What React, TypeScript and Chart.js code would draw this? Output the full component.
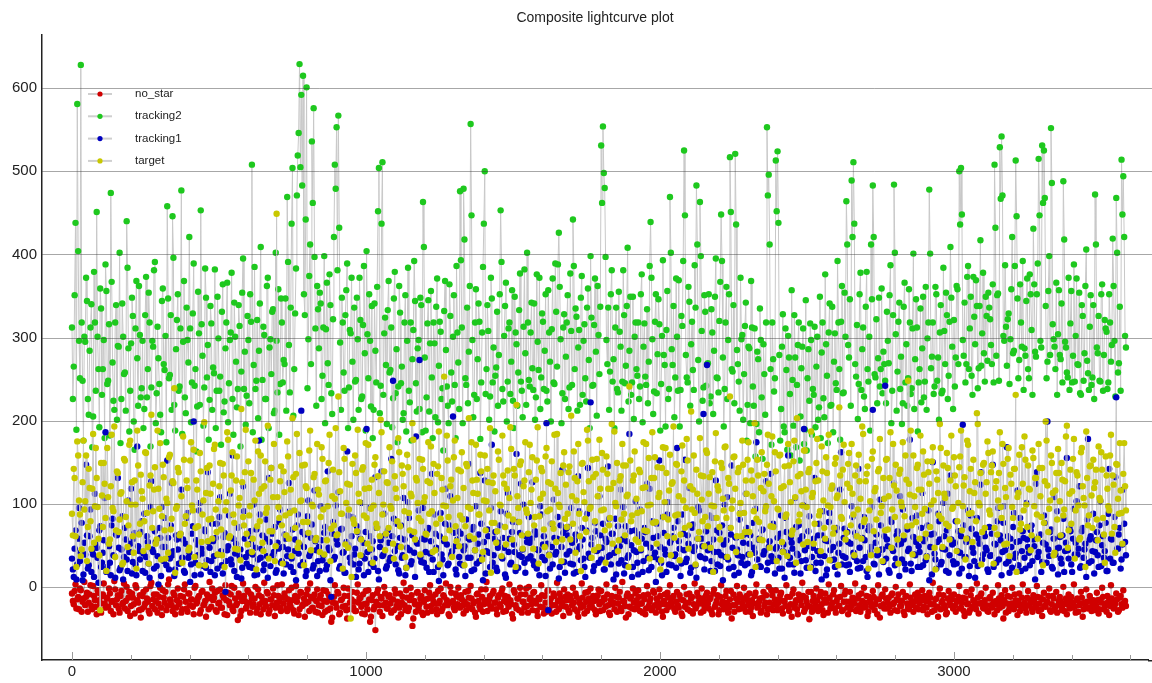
import { useEffect, useRef } from 'react';
import { Chart, registerables, type Plugin } from 'chart.js';

Chart.register(...registerables);

// readings are every 6 frames; the "B" arrays are the readings 3 frames later
const FRAME_STEP = 6;
const FRAME_OFFSET_B = 3;

const seriesNames = ['no_star', 'tracking2', 'tracking1', 'target'];
const seriesColors = ['#d00000', '#1ec81e', '#0000c0', '#c8c800'];
const yTicks = [0, 100, 200, 300, 400, 500, 600];
const xMajorTicks = [0, 1000, 2000, 3000];
const xMinorTicks = [200, 400, 600, 800, 1200, 1400, 1600, 1800, 2200, 2400, 2600, 2800, 3200, 3400, 3600];

const noStar = [
  -8, -21, 3, -15, -27, -4, -18, 6, -12, -30, -9, -23, 1, -16, -33, -7, -20, -11, 4, -25,
  -14, -2, -29, -17, 7, -22, -10, -31, -5, -19, -26, 0, -13, -35, -8, -21, 2, -16, -28, -37,
  -11, -24, -3, -18, -32, 5, -15, -27, -9, -20, -1, -34, -13, -6, -23, 9, -17, -29, -10, -25,
  -2, -19, -31, -12, 3, -26, -8, -22, -15, -33, 1, -18, -11, -28, -5, -21, -36, -14, 6, -24,
  -16, -7, -30, -20, -3, -25, -13, 2, -34, -18, -9, -27, -1, -22, -40, -12, -29, 4, -17, -24,
  -6, -31, -14, -21, 0, -26, -10, -33, -18, 5, -23, -8, -28, -15, -2, -35, -19, -11, -25, 3,
  -20, -13, -29, -4, -24, -16, -32, 1, -12, -27, -7, -21, -36, -9, -18, 4, -26, -14, -30, -3,
  -22, -10, -34, -17, -5, -28, -13, -42, -19, 2, -25, -8, -31, -15, -1, -23, -38, -11, -27, -6,
  -18, -29, 3, -14, -24, -9, -33, -20, -4, -42, -16, -27, -52, -7, -22, -12, -35, 0, -19, -26,
  -10, -31, -15, -3, -23, -37, -8, -19, 5, -28, -13, -25, -1, -47, -17, -30, -6, -21, -11, -34,
  -4, -24, -14, 2, -29, -18, -9, -33, -20, -2, -26, -12, 4, -22, -35, -7, -17, -28, -11, -1,
  -25, -15, -32, -6, -21, -13, 1, -27, -18, -36, -8, -23, -3, -30, -16, 6, -20, -11, -26, -5,
  -19, -33, -10, -24, -2, -17, -29, -12, 3, -21, -38, -7, -26, -14, -1, -31, -18, -9, -23, 0,
  -13, -28, -6, -20, -35, -15, 2, -25, -11, -30, -4, -18, -32, -8, -22, 5, -27, -14, -19, -3,
  -24, -9, -31, -16, -1, -27, -12, -36, -20, 4, -23, -7, -29, -14, -2, -25, -17, -33, -10, -21,
  -5, -28, -15, 3, -22, -34, -11, -19, -1, -30, -13, -25, 6, -18, -37, -8, -24, -12, -2, -27,
  -16, -4, -29, -20, -10, -33, 1, -23, -14, -26, -7, -31, -17, -3, -21, -36, -9, -28, -13, 2,
  -22, -11, -30, -6, -25, -15, -35, 0, -19, -27, -8, -14, -32, 4, -24, -12, -20, -2, -29, -17,
  -7, -26, -13, -33, -3, -21, -10, -28, 2, -18, -24, -5, -31, -15, -38, -9, -22, 1, -27, -12,
  -20, -1, -30, -16, -8, -25, -35, -11, 3, -23, -14, -29, -6, -19, -33, 0, -26, -10, -21, -4,
  -28, -15, -7, -32, -18, 2, -24, -12, -36, -3, -20, -27, -9, -16, 5, -30, -13, -22, -39, -6,
  -17, -25, -2, -29, -11, -21, -34, -8, -15, 3, -26, -19, -4, -31, -13, -23, 1, -28, -9, -18,
  -33, -6, -22, -14, 4, -27, -10, -30, -17, -1, -24, -35, -12, -20, -5, -28, -15, 2, -37, -11,
  -21, -3, -26, -13, -31, -8, -19, 0, -29, -16, -23, -6, -34, -11, -25, 3, -18, -30, -9, -14,
  -27, -12, -4, -24, -17, -33, -7, -21, 5, -28, -14, -36, -2, -19, -10, -26, -31, -5, -22, -15,
  -9, -30, -18, 1, -25, -13, -35, -6, -20, -28, -3, -16, -23, 4, -32, -11, -19, -26, -1, -29,
  -14, -22, -7, -33, -17, 2, -25, -10, -38, -4, -20, -29, -12, -1, -27, -16, -34, -8, -23, 3,
  -19, -31, -5, -15, -26, -10, -21, 1, -29, -13, -35, -7, -24, -18, -2, -30, -11, -27, -6, -22,
  -12, -28, 0, -20, -33, -9, -17, -25, 3, -31, -14, -22, -6, -36, -19, -3, -26, -11, -29, -16,
  -24, -7, -32, -15, -1, -27, -20, -11, -34, 2, -18, -25, -8, -30, -13, -21, -4, -17,
];

const noStarB = [
  -17, -5, -26, -12, -2, -30, -14, -22, -7, -19, 2, -27, -11, -24, -4, -16, -31, -9, -20, -13,
  -24, -8, -18, -33, -3, -15, -26, -11, -21, 4, -17, -29, -6, -23, -13, -32, -1, -19, -10, -27,
  -6, -20, -14, -29, 1, -23, -9, -17, -31, -12, -25, -4, -19, -28, 3, -15, -22, -7, -33, -16,
  -21, -11, -27, -3, -18, -30, -8, -15, -24, -1, -20, -13, -32, -6, -22, -17, -9, -27, -12, -2,
  -13, -28, -5, -19, -25, -10, -33, -16, -7, -22, 1, -29, -14, -20, -8, -35, -17, -11, -26, -4,
  -19, -9, -24, -14, -31, -3, -21, -12, -27, -17, -6, -32, -15, -22, -10, -25, 2, -18, -29, -13,
  -8, -26, -15, -21, -1, -28, -11, -18, -34, -6, -23, -14, -20, -3, -29, -12, -25, -9, -17, -31,
  -14, -23, -4, -30, -18, -9, -26, -37, -12, -20, -6, -33, -16, -24, -11, -28, -2, -19, -15, -25,
  -29, -7, -19, -13, -32, -21, -5, -27, -15, -36, -10, -24, -18, -3, -30, -14, -22, -8, -26, -12,
  -20, -15, -28, -8, -18, -25, -33, -12, -22, -4, -29, -16, -10, -38, -21, -7, -26, -14, -31, -18,
  -15, -31, -7, -23, -12, -20, -27, -5, -17, -29, -10, -22, -16, -33, 0, -19, -25, -8, -21, -13,
  -10, -22, -18, -28, -5, -25, -14, -20, -31, -9, -17, -27, -12, -21, -3, -29, -15, -24, -8, -19,
  -27, -13, -21, -6, -30, -11, -19, -24, -16, -33, -4, -22, -14, -28, -9, -18, -25, -2, -31, -15,
  -21, -7, -17, -29, -13, -24, -10, -32, -19, -5, -26, -14, -22, -11, -30, -17, -8, -23, -35, -12,
  -16, -28, -11, -22, -19, -8, -30, -15, -25, -13, -32, -18, -6, -24, -20, -11, -28, -16, -3, -29,
  -18, -13, -24, -9, -31, -16, -21, -27, -12, -20, -6, -29, -17, -23, -11, -33, -14, -26, -19, -8,
  -23, -12, -20, -31, -15, -26, -9, -18, -28, -5, -22, -14, -25, -11, -30, -17, -21, -7, -24, -19,
  -13, -27, -18, -22, -10, -32, -16, -24, -9, -19, -29, -12, -21, -26, -7, -18, -31, -14, -23, -10,
  -20, -15, -29, -8, -24, -17, -33, -12, -21, -27, -11, -19, -25, -5, -22, -30, -14, -18, -9, -26,
  -14, -24, -11, -21, -30, -16, -20, -7, -25, -18, -31, -13, -23, -10, -27, -19, -4, -28, -15, -22,
  -19, -10, -26, -17, -23, -12, -29, -21, -8, -25, -16, -33, -14, -22, -11, -27, -18, -6, -24, -30,
  -11, -21, -16, -24, -6, -28, -15, -19, -31, -13, -22, -9, -26, -17, -23, -12, -29, -18, -5, -25,
  -18, -27, -13, -20, -29, -14, -22, -8, -25, -19, -11, -30, -16, -24, -12, -21, -33, -15, -23, -9,
  -26, -14, -19, -24, -10, -21, -28, -15, -9, -23, -17, -30, -12, -20, -27, -13, -22, -18, -25, -7,
  -20, -16, -28, -11, -25, -18, -13, -30, -21, -15, -24, -9, -27, -17, -22, -33, -14, -19, -11, -26,
  -23, -17, -12, -26, -19, -29, -14, -21, -31, -10, -24, -18, -27, -13, -20, -8, -25, -16, -22, -30,
  -12, -25, -18, -21, -28, -14, -19, -23, -16, -31, -11, -26, -20, -24, -9, -22, -17, -29, -13, -21,
  -26, -13, -22, -18, -30, -16, -25, -12, -20, -27, -15, -23, -19, -11, -28, -21, -14, -24, -31, -17,
  -17, -23, -29, -14, -21, -26, -12, -19, -24, -16, -30, -20, -13, -27, -22, -18, -25, -15, -21, -28,
  -22, -16, -27, -19, -12, -24, -30, -18, -23, -14, -26, -20, -15, -28, -11, -25, -19, -23,
];

const tracking2 = [
  312, 265, 438, 581, 296, 628, 248, 301, 372, 226, 284, 340, 205, 318, 451, 262, 359, 231, 297, 388,
  244, 316, 474, 270, 213, 339, 290, 402, 226, 301, 258, 440, 287, 236, 348, 199, 311, 275, 362, 228,
  296, 214, 373, 262, 318, 240, 289, 391, 233, 275, 207, 344, 268, 302, 458, 251, 327, 446, 219, 286,
  352, 241, 477, 295, 228, 336, 270, 311, 246, 389, 262, 217, 305, 453, 278, 240, 348, 291, 225, 317,
  264, 382, 236, 299, 253, 331, 210, 287, 366, 245, 306, 226, 342, 271, 238, 314, 259, 395, 283, 230,
  297, 352, 508, 267, 238, 321, 284, 409, 249, 303, 226, 372, 288, 256, 334, 212, 296, 358, 244, 318,
  273, 347, 469, 291, 336, 504, 262, 383, 519, 629, 592, 615, 327, 601, 298, 412, 536, 576, 311, 362,
  287, 341, 254, 398, 310, 269, 376, 233, 322, 508, 553, 567, 294, 348, 258, 327, 389, 240, 305, 271,
  336, 249, 298, 372, 226, 315, 281, 404, 251, 296, 338, 213, 284, 361, 504, 242, 511, 305, 267, 333,
  258, 312, 227, 379, 286, 241, 330, 265, 209, 351, 296, 236, 318, 274, 392, 245, 287, 214, 339, 463,
  276, 228, 345, 293, 252, 318, 204, 371, 266, 307, 239, 332, 285, 218, 364, 258, 301, 243, 386, 270,
  476, 312, 479, 251, 336, 283, 557, 297, 231, 358, 274, 319, 246, 385, 500, 262, 308, 229, 347, 288,
  254, 331, 279, 453, 238, 302, 366, 247, 318, 271, 224, 349, 292, 258, 377, 236, 313, 281, 402, 249,
  306, 263, 341, 228, 295, 372, 252, 319, 284, 236, 357, 271, 310, 246, 389, 265, 426, 298, 233, 328,
  277, 351, 240, 308, 442, 262, 325, 288, 219, 374, 296, 251, 336, 273, 398, 242, 315, 283, 362, 256,
  531, 554, 480, 297, 336, 259, 381, 274, 312, 238, 355, 289, 247, 327, 266, 408, 284, 231, 349, 301,
  262, 318, 241, 376, 289, 253, 334, 271, 439, 298, 235, 352, 280, 316, 244, 393, 267, 309, 226, 469,
  286, 338, 252, 301, 369, 237, 314, 525, 279, 246, 343, 292, 261, 387, 483, 273, 463, 308, 240, 331,
  268, 352, 229, 306, 284, 395, 251, 320, 448, 276, 238, 361, 297, 517, 262, 339, 521, 285, 247, 372,
  303, 256, 342, 219, 287, 368, 241, 311, 196, 274, 335, 228, 292, 207, 553, 496, 262, 318, 235, 513,
  524, 279, 214, 328, 186, 261, 302, 232, 357, 194, 276, 243, 318, 205, 289, 172, 345, 251, 224, 297,
  238, 313, 265, 201, 349, 282, 227, 376, 254, 306, 218, 337, 271, 245, 392, 262, 319, 233, 354, 464,
  291, 346, 489, 511, 268, 315, 244, 378, 286, 229, 337, 262, 301, 412, 483, 256, 322, 275, 241, 359,
  283, 248, 331, 269, 387, 236, 484, 304, 259, 342, 277, 221, 366, 292, 251, 318, 239, 401, 274, 312,
  246, 335, 287, 228, 361, 299, 478, 263, 318, 241, 352, 276, 306, 233, 384, 268, 327, 254, 409, 289,
  321, 276, 358, 500, 504, 297, 342, 268, 386, 311, 254, 373, 292, 338, 263, 417, 305, 281, 349, 272,
  336, 291, 364, 508, 278, 353, 529, 542, 302, 387, 266, 329, 298, 421, 284, 513, 347, 273, 318, 392,
  287, 344, 262, 376, 309, 431, 283, 352, 515, 296, 531, 525, 338, 271, 398, 552, 316, 289, 366, 304,
  279, 341, 488, 295, 258, 372, 317, 246, 388, 302, 268, 354, 231, 326, 281, 406, 257, 313, 243, 339,
  472, 288, 326, 247, 364, 279, 311, 238, 352, 271, 419, 296, 468, 258, 337, 514, 494, 302,
];

const tracking2B = [
  226, 351, 189, 404, 251, 318, 176, 295, 344, 207, 312, 168, 379, 236, 301, 192, 335, 262, 179, 356,
  248, 182, 367, 224, 318, 201, 289, 173, 341, 256, 212, 384, 187, 293, 326, 165, 368, 218, 303, 239,
  191, 327, 228, 354, 169, 296, 381, 197, 313, 244, 186, 359, 261, 174, 347, 255, 213, 396, 188, 321,
  236, 311, 184, 368, 209, 297, 421, 198, 329, 242, 163, 355, 219, 316, 194, 383, 252, 177, 338, 213,
  257, 191, 349, 236, 171, 364, 223, 318, 198, 297, 378, 183, 301, 216, 339, 169, 354, 238, 195, 326,
  221, 319, 186, 385, 248, 203, 341, 177, 313, 226, 362, 191, 298, 331, 209, 402, 234, 183, 347, 246,
  268, 212, 391, 234, 437, 206, 329, 471, 546, 505, 483, 352, 442, 239, 374, 268, 462, 397, 218, 334,
  354, 226, 312, 197, 366, 243, 339, 208, 421, 479, 381, 432, 213, 318, 236, 357, 191, 309, 372, 201,
  247, 348, 213, 321, 229, 386, 188, 304, 352, 217, 179, 341, 246, 452, 209, 437, 231, 324, 196, 368,
  261, 192, 347, 233, 174, 362, 245, 201, 318, 187, 384, 222, 176, 309, 344, 211, 297, 348, 186, 409,
  188, 317, 211, 356, 179, 293, 337, 198, 319, 226, 164, 368, 241, 197, 326, 223, 351, 179, 306, 214,
  393, 197, 418, 243, 221, 362, 447, 204, 318, 226, 341, 178, 306, 437, 232, 339, 201, 372, 246, 187,
  264, 218, 352, 391, 223, 338, 199, 311, 232, 357, 191, 306, 218, 333, 247, 204, 382, 219, 318, 241,
  342, 237, 201, 376, 261, 214, 329, 238, 352, 223, 306, 199, 371, 244, 331, 388, 361, 197, 312, 226,
  318, 214, 377, 243, 386, 335, 212, 309, 348, 231, 316, 223, 359, 191, 324, 243, 371, 206, 303, 337,
  462, 498, 397, 268, 213, 352, 247, 191, 336, 234, 307, 212, 381, 245, 338, 223, 349, 246, 202, 318,
  254, 226, 352, 198, 317, 243, 221, 386, 372, 208, 319, 233, 346, 188, 302, 279, 193, 356, 238, 402,
  267, 204, 371, 236, 193, 326, 392, 447, 252, 361, 218, 319, 237, 336, 412, 199, 398, 224, 351, 242,
  269, 221, 334, 208, 349, 252, 234, 367, 392, 193, 318, 226, 352, 451, 259, 221, 436, 268, 212, 298,
  201, 314, 176, 289, 197, 312, 218, 157, 283, 186, 297, 154, 256, 318, 471, 412, 171, 274, 251, 452,
  438, 176, 289, 193, 311, 165, 276, 158, 249, 327, 168, 291, 152, 263, 311, 189, 164, 286, 317, 183,
  231, 192, 301, 216, 179, 318, 204, 292, 173, 341, 219, 186, 305, 237, 318, 177, 362, 234, 301, 412,
  276, 218, 421, 437, 253, 202, 352, 237, 312, 214, 379, 247, 188, 346, 421, 252, 221, 348, 262, 233,
  268, 221, 296, 351, 197, 327, 402, 212, 319, 238, 196, 337, 246, 218, 358, 232, 311, 214, 346, 187,
  262, 222, 349, 247, 213, 318, 401, 277, 232, 361, 248, 201, 339, 236, 308, 354, 226, 319, 348, 214,
  241, 362, 268, 436, 448, 278, 246, 373, 262, 349, 231, 325, 369, 239, 338, 266, 378, 247, 326, 354,
  322, 268, 246, 432, 351, 248, 467, 471, 296, 313, 322, 244, 358, 281, 386, 446, 251, 364, 289, 237,
  278, 371, 251, 352, 231, 364, 277, 389, 447, 288, 462, 468, 251, 356, 279, 486, 298, 262, 231, 357,
  274, 246, 418, 288, 252, 237, 356, 278, 247, 371, 267, 233, 339, 248, 362, 272, 237, 351, 252, 226,
  412, 281, 248, 352, 236, 321, 307, 246, 318, 291, 362, 229, 402, 269, 236, 448, 421, 288,
];

const tracking1 = [
  34, 12, 68, 27, 95, 41, 8, 53, 147, 22, 61, 18, 39, 112, 47, 5, 73, 29, 56, 186,
  24, 49, 14, 82, 37, 63, 131, 20, 45, 9, 71, 33, 104, 52, 16, 58, 27, 169, 43, 66,
  19, 88, 36, 54, 11, 127, 42, 67, 25, 3, 59, 96, 31, 48, 152, 21, 74, 38, 13, 62,
  45, 28, 117, 57, 17, 83, 35, 6, 64, 199, 29, 51, 92, 15, 40, 69, 23, 138, 47, 31,
  55, 14, 76, 39, 108, 26, 60, -6, 44, 86, 33, 158, 19, 52, 71, 37, 10, 121, 58, 28,
  41, 67, 23, 99, 47, 15, 176, 35, 62, 27, 81, 11, 54, 143, 38, 72, 20, 46, 93, 31,
  16, 58, 37, 125, 24, 69, 43, 8, 87, 51, 212, 30, 63, 19, 104, 40, 75, 26, 55, 13,
  48, 97, 32, 65, 21, 139, 44, -12, 78, 36, 57, 114, 25, 70, 42, 17, 163, 50, 29, 84,
  39, 12, 66, 28, 101, 53, 34, 190, 18, 61, 45, 24, 132, 72, 9, 56, 37, 88, 22, 68,
  31, 154, 248, 43, 76, 20, 59, 35, 107, 14, 47, 83, 27, 62, 41, 181, 52, 273, 30, 95,
  57, 23, 71, 40, 136, 18, 64, 46, 7, 89, 33, 55, 118, 26, 74, 39, 205, 49, 15, 67,
  28, 82, 44, 13, 59, 148, 35, 69, 21, 97, 52, 31, 76, 8, 128, 43, 61, 24, 171, 38,
  66, 19, 53, 91, 34, 47, 11, 113, 58, 29, 78, 42, 160, 23, 65, 36, 99, 17, 54, 84,
  37, 126, 26, 63, 45, 14, 87, 51, 32, 197, -28, 22, 48, 105, 39, 58, 10, 74, 141, 30,
  70, 62, 43, 95, 27, 56, 18, 133, 49, 71, 34, 12, 88, 40, 222, 59, 25, 67, 44, 109,
  33, 76, 21, 54, 145, 38, 64, 9, 82, 47, 28, 117, 57, 16, 73, 35, 184, 50, 24, 68,
  42, 15, 93, 58, 31, 66, 124, 20, 47, 79, 36, 6, 61, 152, 29, 84, 45, 18, 102, 53,
  26, 71, 39, 167, 55, 13, 87, 44, 30, 62, 119, 23, 75, 48, 11, 96, 37, 58, 208, 34,
  267, 51, 19, 83, 42, 128, 27, 65, 38, 8, 99, 56, 33, 71, 146, 24, 60, 45, 17, 89,
  36, 63, 112, 28, 52, 14, 77, 41, 174, 57, 25, 68, 39, 94, 20, 48, 136, 31, 73, 46,
  59, 22, 86, 43, 11, 66, 158, 35, 53, 27, 107, 40, 74, 16, 61, 190, 32, 49, 85, 24,
  47, 131, 29, 62, 38, 9, 91, 56, 21, 78, 44, 119, 33, 68, 15, 52, 162, 37, 70, 26,
  54, 18, 97, 41, 65, 31, 142, 23, 59, 84, 36, 12, 73, 48, 213, 27, 63, 39, 105, 45,
  30, 242, 57, 20, 81, 46, 125, 34, 67, 13, 52, 93, 28, 71, 43, 177, 19, 60, 38, 86,
  49, 24, 113, 55, 32, 74, 8, 63, 150, 40, 22, 88, 57, 30, 101, 45, 68, 17, 134, 51,
  27, 79, 43, 16, 61, 195, 36, 54, 92, 25, 70, 41, 11, 83, 58, 123, 33, 66, 47, 21,
  72, 38, 147, 52, 29, 95, 62, 14, 77, 44, 168, 31, 58, 23, 89, 40, 116, 55, 19, 67,
  35, 101, 48, 26, 74, 57, 9, 138, 42, 63, 30, 86, 51, 199, 37, 69, 22, 108, 46, 15,
  60, 28, 82, 43, 155, 34, 67, 18, 94, 53, 39, 121, 25, 71, 45, 12, 178, 57, 31, 88,
  42, 66, 24, 103, 50, 35, 77, 19, 142, 58, 29, 84, 228, 46, 71, 33, 117, 54,
];

const tracking1B = [
  21, 46, 9, 58, 31, 77, 15, 39, 62, 26, 93, 44, 12, 51, 35, 68, 24, 41, 107, 18,
  53, 29, 74, 38, 11, 62, 47, 23, 85, 36, 57, 19, 42, 118, 30, 65, 14, 49, 33, 79,
  40, 17, 61, 28, 96, 45, 22, 54, 37, 71, 13, 48, 83, 26, 59, 34, 125, 43, 21, 57,
  28, 64, 35, 19, 52, 89, 41, 27, 73, 14, 56, 38, 101, 46, 25, 67, 32, 54, 18, 76,
  37, 59, 22, 84, 43, 16, 65, 31, 49, 112, 27, 58, 40, 12, 72, 45, 23, 91, 36, 61,
  24, 52, 39, 14, 69, 33, 87, 46, 20, 58, 37, 131, 25, 64, 42, 17, 53, 78, 29, 48,
  63, 27, 45, 91, 34, 18, 57, 74, 40, 26, 66, 48, 13, 85, 37, 59, 22, 116, 44, 31,
  19, 56, 38, 72, 26, 47, 8, 64, 33, 98, 51, 22, 69, 41, 17, 54, 86, 35, 61, 27,
  46, 73, 21, 58, 37, 14, 66, 42, 95, 28, 55, 34, 71, 19, 48, 139, 39, 62, 25, 53,
  35, 61, 82, 27, 49, 16, 74, 38, 57, 23, 102, 44, 31, 66, 12, 53, 92, 36, 58, 29,
  42, 68, 18, 55, 33, 87, 47, 24, 61, 39, 14, 76, 51, 28, 109, 43, 65, 21, 57, 36,
  64, 26, 49, 81, 35, 57, 19, 72, 44, 28, 63, 137, 37, 54, 16, 69, 41, 95, 29, 58,
  23, 47, 74, 36, 59, 15, 88, 42, 27, 66, 51, 19, 78, 38, 124, 45, 29, 61, 34, 53,
  58, 31, 67, 22, 44, 97, 36, 61, 13, 52, 39, 76, 27, 59, 42, 84, 24, 48, 65, 17,
  39, 72, 28, 53, 16, 63, 45, 91, 32, 57, 24, 68, 143, 35, 51, 19, 77, 43, 29, 62,
  47, 21, 58, 36, 82, 27, 64, 41, 15, 73, 49, 32, 96, 26, 55, 38, 67, 12, 44, 103,
  29, 63, 44, 18, 71, 52, 35, 118, 24, 59, 41, 76, 33, 48, 14, 65, 39, 87, 27, 56,
  61, 37, 23, 79, 46, 28, 64, 153, 34, 52, 17, 71, 43, 26, 58, 92, 36, 49, 21, 67,
  44, 86, 31, 57, 19, 68, 42, 25, 74, 51, 36, 108, 22, 63, 47, 14, 59, 38, 81, 29,
  53, 26, 71, 39, 62, 18, 47, 94, 33, 58, 24, 69, 43, 127, 29, 55, 37, 76, 16, 48,
  35, 64, 22, 51, 83, 41, 27, 59, 46, 17, 72, 38, 56, 31, 98, 44, 23, 67, 52, 36,
  58, 19, 43, 76, 29, 62, 37, 14, 55, 89, 32, 48, 24, 71, 41, 117, 27, 59, 35, 66,
  27, 52, 84, 36, 61, 22, 47, 73, 31, 56, 19, 68, 42, 96, 28, 53, 38, 15, 74, 45,
  61, 34, 49, 17, 78, 43, 26, 62, 51, 109, 33, 57, 21, 69, 46, 28, 83, 39, 54, 24,
  42, 71, 26, 58, 37, 92, 48, 15, 64, 33, 54, 79, 27, 46, 61, 19, 112, 38, 57, 31,
  53, 28, 67, 41, 22, 74, 36, 58, 13, 86, 47, 31, 63, 25, 52, 138, 39, 61, 44, 18,
  37, 64, 24, 51, 79, 33, 56, 42, 97, 28, 61, 17, 48, 72, 35, 54, 26, 83, 43, 59,
  22, 57, 41, 68, 31, 49, 124, 36, 62, 18, 53, 77, 29, 45, 66, 24, 58, 39, 91, 47,
  34, 62, 18, 53, 44, 71, 27, 58, 39, 103, 46, 23, 67, 35, 52, 81, 29, 61, 43, 16,
  56, 38, 74, 25, 61, 43, 19, 88, 34, 57, 29, 132, 46, 63, 22, 51, 76, 38,
];

const target = [
  88, 142, 61, 175, 104, 37, 126, 93, 158, 72, 119, 46, 184, 97, 131, 58, -28, 110, 149, 83,
  167, 52, 121, 95, 193, 68, 137, 81, 114, 29, 152, 103, 74, 176, 126, 41, 99, 188, 63, 135,
  106, 79, 161, 48, 122, 207, 91, 144, 57, 118, 173, 85, 132, 34, 101, 156, 69, 127, 239, 94,
  143, 62, 109, 181, 76, 128, 44, 152, 98, 165, 71, 117, 26, 139, 87, 198, 113, 55, 146, 82,
  124, 171, 66, 103, 149, 38, 134, 92, 186, 59, 116, 162, 77, 128, 45, 107, 214, 84, 138, 64,
  151, 97, 42, 129, 176, 73, 112, 158, 53, 121, 89, 194, 67, 143, 108, 31, 449, 96, 127, 74,
  139, 86, 175, 58, 117, 203, 92, 136, 47, 161, 104, 78, 147, 119, 65, 188, 99, 132, 56, 172,
  111, 84, 154, 39, 128, 97, 183, 70, 141, 106, 62, 229, 115, 88, 167, 51, 124, 93, -38, 148,
  76, 137, 189, 102, 57, 144, 118, 83, 171, 46, 129, 98, 156, 71, 113, 201, 87, 139, 64, 125,
  168, 94, 52, 133, 107, 179, 73, 146, 121, 36, 159, 89, 112, 197, 66, 131, 101, 154, 79, 142,
  108, 63, 174, 125, 91, 148, 44, 136, 187, 82, 117, 253, 97, 152, 68, 129, 104, 176, 55, 141,
  86, 162, 119, 73, 145, 203, 94, 128, 58, 171, 112, 87, 139, 42, 158, 103, 126, 191, 77, 134,
  115, 67, 153, 98, 182, 124, 51, 140, 107, 166, 81, 134, 219, 95, 147, 62, 121, 174, 89, 138,
  101, 156, 74, 129, 192, 85, 143, 112, 48, 167, 126, 93, 151, 70, 118, 184, 99, 137, 57, 162,
  123, 88, 145, 206, 76, 131, 104, 172, 61, 148, 114, 82, 189, 127, 96, 153, 44, 136, 109, 177,
  92, 141, 68, 157, 118, 83, 196, 125, 101, 149, 56, 133, 172, 88, 146, 111, 241, 79, 128, 163,
  106, 54, 138, 91, 174, 120, 67, 155, 99, 186, 131, 78, 144, 113, 32, 168, 102, 137, 81, 159,
  124, 193, 86, 147, 109, 63, 170, 128, 95, 152, 74, 211, 117, 89, 141, 58, 179, 105, 133, 84,
  161, 112, 47, 138, 97, 185, 121, 72, 149, 106, 168, 83, 131, 229, 94, 156, 118, 61, 143, 101,
  176, 89, 128, 153, 66, 140, 109, 197, 82, 134, 57, 162, 115, 91, 147, 124, 73, 181, 103, 139,
  94, 158, 119, 42, 145, 87, 172, 126, 63, 151, 108, 203, 79, 136, 98, 164, 117, 54, 142, 187,
  113, 76, 149, 128, 91, 169, 104, 58, 137, 183, 96, 122, 71, 155, 110, 216, 84, 141, 102, 65,
  148, 119, 172, 87, 134, 61, 159, 106, 193, 78, 127, 145, 92, 38, 163, 115, 81, 139, 178, 97,
  131, 68, 154, 109, 186, 93, 122, 147, 57, 136, 102, 174, 85, 129, 248, 111, 74, 158, 96, 143,
  117, 182, 88, 135, 64, 151, 124, 99, 168, 47, 139, 113, 196, 82, 146, 107, 161, 73, 128, 94,
  156, 121, 79, 144, 188, 97, 132, 58, 171, 115, 89, 153, 126, 209, 101, 137, 66, 149, 112, 175,
  92, 138, 163, 71, 127, 104, 186, 83, 148, 119, 52, 167, 135, 96, 142, 231, 108, 159, 76, 124,
  181, 99, 146, 117, 62, 155, 131, 87, 172, 109, 143, 77, 199, 122, 94, 158, 113, 41, 137, 166,
  103, 149, 86, 127, 194, 68, 141, 115, 178, 92, 134, 57, 162, 121, 98, 187, 74, 145, 110, 153,
  126, 81, 169, 104, 141, 63, 157, 118, 92, 183, 134, 72, 148, 106, 173, 89, 136, 121,
];

const targetB = [
  62, 131, 24, 158, 87, 45, 176, 103, 31, 142, 79, 118, 53, 167, 96, 38, 149, 72, 124, 19,
  108, 57, 183, 91, 36, 139, 66, 112, 27, 154, 84, 48, 171, 99, 61, 128, 22, 146, 76, 115,
  43, 162, 89, 28, 134, 71, 117, 52, 188, 94, 33, 147, 68, 106, 41, 159, 82, 125, 17, 97,
  138, 64, 29, 153, 85, 119, 47, 174, 92, 36, 128, 73, 161, 54, 104, 26, 143, 81, 112, 58,
  166, 93, 39, 121, 69, 148, 24, 102, 177, 61, 134, 87, 46, 157, 98, 32, 126, 74, 189, 51,
  86, 137, 58, 104, 21, 163, 79, 118, 43, 151, 95, 34, 129, 67, 172, 49, 108, 83, 145, 28,
  114, 62, 157, 89, 37, 132, 71, 184, 53, 103, 146, 26, 121, 78, 164, 44, 97, 136, 59, 117,
  42, 168, 93, 127, 56, 149, 31, 109, 74, 191, 63, 138, 88, 22, 154, 101, 47, 123, 12, 81,
  158, 67, 112, 38, 141, 86, 173, 52, 119, 94, 29, 147, 76, 133, 61, 186, 99, 44, 126, 71,
  97, 151, 34, 118, 79, 162, 48, 136, 91, 23, 144, 68, 109, 177, 57, 128, 83, 39, 153, 102,
  64, 127, 88, 169, 42, 113, 76, 145, 27, 131, 98, 58, 182, 84, 121, 36, 156, 73, 107, 49,
  139, 81, 26, 148, 96, 61, 174, 113, 44, 129, 87, 159, 33, 104, 68, 142, 92, 17, 125, 77,
  53, 163, 99, 37, 134, 72, 118, 86, 192, 57, 142, 24, 109, 78, 151, 46, 128, 93, 64, 171,
  117, 46, 84, 152, 28, 106, 139, 69, 157, 91, 38, 124, 76, 183, 54, 113, 96, 31, 146, 82,
  72, 138, 57, 109, 163, 41, 127, 88, 19, 149, 102, 66, 176, 94, 35, 132, 79, 154, 48, 118,
  161, 93, 29, 136, 74, 118, 52, 187, 97, 43, 128, 81, 146, 62, 109, 24, 152, 86, 134, 57,
  89, 141, 46, 119, 68, 172, 98, 34, 131, 77, 156, 52, 108, 21, 143, 84, 167, 61, 116, 38,
  126, 59, 148, 87, 32, 139, 104, 71, 178, 46, 121, 93, 158, 27, 112, 66, 134, 79, 49, 164,
  73, 132, 98, 18, 151, 83, 116, 57, 143, 92, 169, 36, 124, 71, 104, 157, 42, 138, 88, 61,
  147, 66, 112, 174, 39, 128, 91, 24, 153, 78, 119, 56, 136, 97, 183, 47, 109, 72, 162, 31,
  93, 159, 54, 121, 84, 37, 146, 102, 68, 176, 29, 133, 87, 115, 51, 164, 96, 138, 23, 108,
  52, 127, 178, 86, 43, 139, 71, 156, 98, 32, 118, 64, 148, 107, 26, 134, 82, 171, 57, 124,
  161, 74, 112, 38, 146, 93, 127, 58, 184, 81, 136, 22, 103, 154, 67, 119, 44, 142, 89, 31,
  106, 153, 69, 131, 47, 172, 84, 116, 28, 141, 97, 62, 158, 73, 124, 188, 39, 109, 78, 147,
  58, 117, 163, 94, 36, 138, 72, 151, 104, 21, 129, 86, 167, 48, 112, 76, 143, 57, 182, 96,
  134, 43, 101, 157, 68, 122, 33, 176, 88, 142, 54, 113, 79, 196, 98, 27, 147, 71, 126, 161,
  87, 146, 28, 119, 63, 137, 96, 172, 51, 108, 154, 37, 124, 83, 142, 18, 113, 69, 168, 92,
  153, 72, 118, 44, 164, 97, 131, 58, 143, 84, 26, 127, 176, 66, 104, 149, 38, 116, 81, 137,
  62, 129, 93, 181, 47, 112, 76, 154, 34, 138, 98, 59, 167, 107, 24, 131, 86, 146, 71, 119,
  141, 56, 107, 162, 83, 29, 134, 97, 158, 64, 123, 41, 147, 88, 116, 52, 173, 92,
];

const FONT = "'Liberation Sans', Arial, sans-serif";

// merge the two reading sets of one series in frame order
const toPoints = (a: number[], b: number[]) => {
  const pts: { x: number; y: number }[] = [];
  a.forEach((y, i) => {
    pts.push({ x: i * FRAME_STEP, y });
    if (i < b.length) pts.push({ x: i * FRAME_STEP + FRAME_OFFSET_B, y: b[i] });
  });
  return pts;
};

// gridlines and inward x ticks are painted over the data, as in the reference
const overlayPlugin: Plugin = {
  id: 'overlay',
  afterDatasetsDraw(chart) {
    const { ctx, chartArea, scales } = chart;
    const y = scales.y;
    const x = scales.x;
    ctx.save();
    ctx.lineWidth = 1;
    ctx.strokeStyle = 'rgba(60,60,60,0.45)';
    yTicks.forEach((v) => {
      const py = Math.round(y.getPixelForValue(v)) + 0.5;
      ctx.beginPath();
      ctx.moveTo(chartArea.left, py);
      ctx.lineTo(chart.width, py);
      ctx.stroke();
    });
    ctx.strokeStyle = '#9a9a9a';
    [...xMajorTicks, ...xMinorTicks].forEach((v) => {
      const px = Math.round(x.getPixelForValue(v)) + 0.5;
      const len = xMajorTicks.includes(v) ? 8 : 5;
      ctx.beginPath();
      ctx.moveTo(px, chartArea.bottom);
      ctx.lineTo(px, chartArea.bottom - len);
      ctx.stroke();
    });
    // bottom axis runs to the right edge of the picture
    ctx.strokeStyle = '#222';
    ctx.lineWidth = 1.5;
    ctx.beginPath();
    ctx.moveTo(chartArea.right, chartArea.bottom + 0.75);
    ctx.lineTo(chart.width, chartArea.bottom + 0.75);
    ctx.stroke();
    ctx.restore();
  },
  afterDraw(chart) {
    const { ctx, chartArea } = chart;
    ctx.save();
    ctx.fillStyle = '#222';
    ctx.font = `14px ${FONT}`;
    ctx.textAlign = 'center';
    ctx.textBaseline = 'middle';
    ctx.fillText('Composite lightcurve plot', (chartArea.left + chartArea.right) / 2, 18);

    ctx.font = `11.5px ${FONT}`;
    ctx.textAlign = 'left';
    seriesNames.forEach((name, i) => {
      const ly = 94 + i * 22.3;
      ctx.strokeStyle = '#cfcfcf';
      ctx.lineWidth = 2;
      ctx.beginPath();
      ctx.moveTo(88, ly);
      ctx.lineTo(112, ly);
      ctx.stroke();
      ctx.fillStyle = seriesColors[i];
      ctx.beginPath();
      ctx.arc(100, ly, 2.6, 0, Math.PI * 2);
      ctx.fill();
      ctx.fillStyle = '#222';
      ctx.fillText(name, 135, ly);
    });
    ctx.restore();
  },
};

export default function App() {
  const canvasRef = useRef<HTMLCanvasElement>(null);
  const chartRef = useRef<Chart | null>(null);

  useEffect(() => {
    if (!canvasRef.current) return;
    chartRef.current?.destroy();
    const values = [
      [noStar, noStarB],
      [tracking2, tracking2B],
      [tracking1, tracking1B],
      [target, targetB],
    ];
    chartRef.current = new Chart(canvasRef.current, {
      type: 'line',
      data: {
        datasets: seriesNames.map((name, i) => ({
          label: name,
          data: toPoints(values[i][0], values[i][1]),
          borderColor: '#c8c8c8',
          borderWidth: 1,
          pointRadius: 3.2,
          pointBorderWidth: 0,
          pointBackgroundColor: seriesColors[i],
          pointBorderColor: seriesColors[i],
          // first series at the bottom, target on top
          order: seriesNames.length - 1 - i,
        })),
      },
      options: {
        animation: false,
        responsive: true,
        maintainAspectRatio: false,
        layout: { padding: { top: 35, left: 0, right: 0, bottom: 0 } },
        plugins: {
          legend: { display: false },
          title: { display: false },
          tooltip: { enabled: false },
        },
        scales: {
          x: {
            type: 'linear',
            min: -102,
            max: 3660,
            grid: { display: false, drawTicks: false },
            border: { display: true, color: '#222', width: 1.5 },
            afterBuildTicks: (scale) => {
              scale.ticks = xMajorTicks.map((v) => ({ value: v }));
            },
            afterFit: (scale) => {
              scale.height = 23;
            },
            ticks: {
              autoSkip: false,
              maxRotation: 0,
              padding: 3,
              color: '#222',
              font: { family: FONT, size: 15 },
              callback: (v) => String(v),
            },
          },
          y: {
            type: 'linear',
            min: -88,
            max: 664,
            grid: { display: false, drawTicks: false },
            border: { display: true, color: '#222', width: 1.5 },
            afterBuildTicks: (scale) => {
              scale.ticks = yTicks.map((v) => ({ value: v }));
            },
            afterFit: (scale) => {
              scale.width = 42;
            },
            ticks: {
              padding: 5,
              color: '#222',
              font: { family: FONT, size: 15 },
              callback: (v) => String(v),
            },
          },
        },
      },
      plugins: [overlayPlugin],
    } as never);
    return () => { chartRef.current?.destroy(); };
  }, []);

  return (
    <div style={{ position: 'absolute', left: 0, top: 0, width: 1152, height: 683, background: '#fff' }}>
      <canvas ref={canvasRef} />
    </div>
  );
}
